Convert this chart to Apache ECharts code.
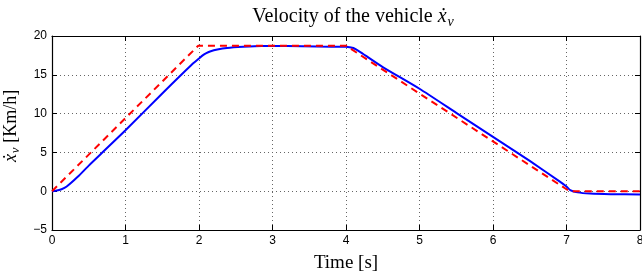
<!DOCTYPE html>
<html>
<head>
<meta charset="utf-8">
<script src="https://cdn.jsdelivr.net/npm/echarts@6/dist/echarts.min.js"></script>
<style>
  html, body { margin: 0; padding: 0; background: #fff; }
  #chart { width: 642px; height: 278px; }
</style>
</head>
<body>
<div id="chart"></div>
<script>
// measured (time, speed) pairs
const blueTime = [0, 0.05, 0.13, 0.2, 0.35, 0.5, 0.72, 1.0, 1.5, 1.9, 2.0, 2.05, 2.1, 2.15, 2.25, 2.38, 2.6, 2.85, 3.2, 3.6, 4.0, 4.05, 4.1, 4.2, 4.5, 5.0, 5.5, 6.0, 6.5, 6.9, 7.0, 7.05, 7.15, 7.32, 7.6, 8.0];
const blueSpeed = [0, 0.05, 0.25, 0.6, 1.85, 3.3, 5.3, 7.85, 12.6, 16.3, 17.1, 17.5, 17.8, 18.0, 18.25, 18.45, 18.6, 18.7, 18.7, 18.65, 18.6, 18.55, 18.45, 17.9, 16.0, 13.2, 10.1, 7.0, 3.9, 1.3, 0.6, 0.15, -0.15, -0.3, -0.38, -0.42];
const redTime = [0, 1.99, 4.0, 7.04, 8.0];
const redSpeed = [0, 18.75, 18.75, 0, 0];

const xTicks = [0, 1, 2, 3, 4, 5, 6, 7, 8];
const yTicks = [-5, 0, 5, 10, 15, 20];

function pairs(t, v) {
    return t.map(function (x, i) { return [x, v[i]]; });
}

function mathRich(size) {
    const serif = '"Liberation Serif", "DejaVu Serif", serif';
    return {
        n: { fontFamily: serif, fontSize: size, fontWeight: 'normal', color: '#000' },
        i: { fontFamily: serif, fontSize: size, fontWeight: 'normal', fontStyle: 'italic', color: '#000' },
        s: { fontFamily: serif, fontSize: Math.round(size * 0.7), fontWeight: 'normal', fontStyle: 'italic', color: '#000', padding: [Math.round(size * 0.5), 0, 0, 1] }
    };
}

function initVelocityChart() {
    const chart = echarts.init(document.getElementById('chart'));

    const serif = '"Liberation Serif", "DejaVu Serif", serif';
    const sans = '"Liberation Sans", Arial, sans-serif';

    const gridLine = { show: true, lineStyle: { color: '#666', type: [1, 3], width: 1 } };
    const tickIn = { show: true, inside: true, length: 5, lineStyle: { color: '#000' } };
    const axisBlack = { show: true, onZero: false, lineStyle: { color: '#000', width: 1.2 } };

    const option = {
        animation: false,
        title: {
            text: '{n|Velocity of the vehicle }{i|ẋ}{s|v}',
            left: 348,
            textAlign: 'center',
            top: 0,
            textStyle: { fontWeight: 'normal', rich: mathRich(20) }
        },
        grid: { left: 52, right: 2, top: 36, bottom: 48, outerBoundsMode: 'none', containLabel: false },
        xAxis: [{
            type: 'value',
            min: xTicks[0],
            max: xTicks[xTicks.length - 1],
            interval: 1,
            name: 'Time [s]',
            nameLocation: 'middle',
            nameGap: 24,
            nameTextStyle: { fontFamily: serif, fontSize: 19, color: '#000' },
            axisLine: axisBlack,
            axisTick: tickIn,
            splitLine: gridLine,
            axisLabel: { fontFamily: sans, fontSize: 12, color: '#000', margin: 5 }
        }, {
            type: 'value',
            position: 'top',
            min: xTicks[0],
            max: xTicks[xTicks.length - 1],
            interval: 1,
            axisLine: axisBlack,
            axisTick: tickIn,
            splitLine: { show: false },
            axisLabel: { show: false }
        }],
        yAxis: [{
            type: 'value',
            min: yTicks[0],
            max: yTicks[yTicks.length - 1],
            interval: 5,
            name: '{i|ẋ}{s|v}{n| [Km/h]}',
            nameLocation: 'middle',
            nameGap: 25,
            nameTextStyle: { rich: mathRich(18), padding: [0, 0, 0, 14] },
            axisLine: axisBlack,
            axisTick: tickIn,
            splitLine: gridLine,
            axisLabel: {
                fontFamily: sans, fontSize: 12, color: '#000', margin: 5,
                formatter: function (v) { return v < 0 ? '\u2212' + Math.abs(v) : String(v); }
            }
        }, {
            type: 'value',
            position: 'right',
            min: yTicks[0],
            max: yTicks[yTicks.length - 1],
            interval: 5,
            axisLine: axisBlack,
            axisTick: tickIn,
            splitLine: { show: false },
            axisLabel: { show: false }
        }],
        series: [{
            name: 'reference',
            type: 'line',
            data: pairs(redTime, redSpeed),
            showSymbol: false,
            z: 3,
            lineStyle: { color: '#ff0000', width: 2, type: [7, 5] }
        }, {
            name: 'speed',
            type: 'line',
            data: pairs(blueTime, blueSpeed),
            showSymbol: false,
            smooth: 0.2,
            z: 2,
            lineStyle: { color: '#0000ff', width: 2 }
        }]
    };

    chart.setOption(option);
}

window.onload = function () {
    initVelocityChart();
};
</script>
</body>
</html>
